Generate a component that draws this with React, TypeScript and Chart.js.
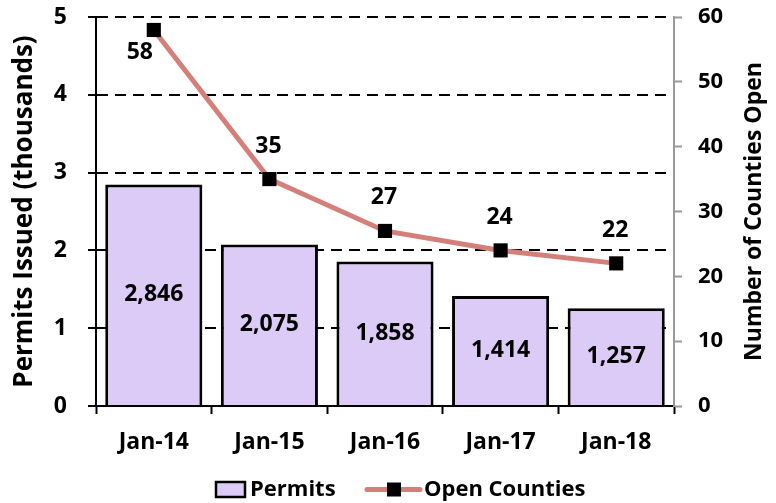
import React, { useEffect, useRef } from "react";
import { Chart, registerables } from "chart.js";

Chart.register(...registerables);

const categories = ["Jan-14", "Jan-15", "Jan-16", "Jan-17", "Jan-18"];
const permits = [2.846, 2.075, 1.858, 1.414, 1.257];
const permitLabels = ["2,846", "2,075", "1,858", "1,414", "1,257"];
const openCounties = [58, 35, 27, 24, 22];
const leftTicks = [0, 1, 2, 3, 4, 5];
const rightTicks = [0, 10, 20, 30, 40, 50, 60];
const leftTitle = "Permits Issued (thousands)";
const rightTitle = "Number of Counties Open";

const FONT = "'Open Sans', sans-serif";
const BAR_FILL = "#dccbf7";
const LINE_COLOR = "#d47f7a";

const labelPlugin = {
  id: "labels",
  afterDatasetsDraw(chart: any) {
    const ctx = chart.ctx;
    ctx.save();
    ctx.fillStyle = "#000";
    ctx.font = `bold 23px ${FONT}`;
    ctx.textAlign = "center";
    ctx.textBaseline = "middle";
    const barMeta = chart.getDatasetMeta(0);
    barMeta.data.forEach((el: any, i: number) => {
      const yMid = (el.y + el.base) / 2;
      ctx.fillText(permitLabels[i], el.x, yMid);
    });
    const lineMeta = chart.getDatasetMeta(1);
    lineMeta.data.forEach((el: any, i: number) => {
      if (i === 0) ctx.fillText(String(openCounties[i]), el.x - 14, el.y + 22);
      else ctx.fillText(String(openCounties[i]), el.x - 1, el.y - 33);
    });
    ctx.restore();
  },
  afterDraw(chart: any) {
    const ctx = chart.ctx;
    const area = chart.chartArea;
    const midY = (area.top + area.bottom) / 2;
    ctx.save();
    ctx.fillStyle = "#000";
    ctx.textAlign = "center";
    ctx.textBaseline = "middle";
    // left axis title
    ctx.save();
    ctx.font = `bold 26px ${FONT}`;
    ctx.translate(25, midY);
    ctx.rotate(-Math.PI / 2);
    ctx.fillText(leftTitle, 0, 0);
    ctx.restore();
    // right axis title, reading bottom-to-top
    ctx.save();
    ctx.font = `bold 23px ${FONT}`;
    ctx.translate(754, midY);
    ctx.rotate(-Math.PI / 2);
    ctx.fillText(rightTitle, 0, 0);
    ctx.restore();
    ctx.restore();

    ctx.save();
    const y = 489.5;
    // Permits legend
    ctx.fillStyle = BAR_FILL;
    ctx.fillRect(216, y - 7.5, 29, 15);
    ctx.strokeStyle = "#000";
    ctx.lineWidth = 2.5;
    ctx.strokeRect(216, y - 7.5, 29, 15);
    ctx.fillStyle = "#000";
    ctx.font = `bold 22px ${FONT}`;
    ctx.textAlign = "left";
    ctx.textBaseline = "middle";
    ctx.fillText(chart.data.datasets[0].label, 250, y);
    // Open Counties legend
    ctx.strokeStyle = LINE_COLOR;
    ctx.lineWidth = 5;
    ctx.lineCap = "round";
    ctx.beginPath();
    ctx.moveTo(367, y);
    ctx.lineTo(420, y);
    ctx.stroke();
    ctx.fillStyle = "#000";
    ctx.fillRect(387, y - 7, 14, 14);
    ctx.fillText(chart.data.datasets[1].label, 424, y);
    ctx.restore();
  },
};

export default function App() {
  const ref = useRef<HTMLCanvasElement>(null);
  useEffect(() => {
    if (!ref.current) return;
    const chart = new Chart(ref.current, {
      type: "bar",
      data: {
        labels: categories,
        datasets: [
          {
            type: "bar",
            label: "Permits",
            data: permits,
            backgroundColor: BAR_FILL,
            borderColor: "#000",
            borderWidth: 3,
            barPercentage: 0.84,
            categoryPercentage: 1,
            yAxisID: "y",
            order: 2,
          },
          {
            type: "line",
            label: "Open Counties",
            data: openCounties,
            borderColor: LINE_COLOR,
            borderWidth: 5,
            pointStyle: "rect",
            pointRadius: 10,
            pointBackgroundColor: "#000",
            pointBorderColor: "#000",
            pointBorderWidth: 0,
            yAxisID: "y1",
            order: 1,
          } as any,
        ],
      },
      options: {
        animation: false,
        responsive: true,
        maintainAspectRatio: false,
        layout: { padding: { top: 17, bottom: 47, left: 0, right: 0 } },
        plugins: {
          legend: { display: false },
          tooltip: { enabled: false },
        },
        scales: {
          x: {
            afterFit: (s: any) => {
              s.height = 50;
              s.paddingLeft = 0;
              s.paddingRight = 0;
            },
            grid: {
              display: true,
              drawOnChartArea: false,
              drawTicks: true,
              tickLength: 8,
              tickColor: "#000",
              tickWidth: 2,
              offset: true,
            },
            border: { display: true, color: "#000", width: 2 },
            ticks: {
              color: "#000",
              font: { family: FONT, size: 23, weight: "bold" },
              padding: 15,
            },
          },
          y: {
            position: "left",
            min: 0,
            max: 5,
            afterBuildTicks: (axis: any) => {
              axis.ticks = leftTicks.map((v) => ({ value: v }));
            },
            afterFit: (s: any) => {
              s.width = 96;
              s.paddingTop = 0;
              s.paddingBottom = 0;
            },
            grid: {
              color: "#000",
              lineWidth: 2,
              tickLength: 8,
              tickColor: "#000",
              tickWidth: 2,
            },
            border: { display: true, color: "#000", width: 2, dash: [11, 7] },
            ticks: {
              color: "#000",
              font: { family: FONT, size: 23, weight: "bold" },
              padding: 21,
            },
          },
          y1: {
            position: "right",
            min: 0,
            max: 60,
            afterBuildTicks: (axis: any) => {
              axis.ticks = rightTicks.map((v) => ({ value: v }));
            },
            afterFit: (s: any) => {
              s.width = 102;
              s.paddingTop = 0;
              s.paddingBottom = 0;
            },
            grid: {
              drawOnChartArea: false,
              tickLength: 8,
              tickColor: "#999",
              tickWidth: 2,
            },
            border: { display: true, color: "#999", width: 2 },
            ticks: {
              color: "#000",
              font: { family: FONT, size: 22, weight: "bold" },
              padding: 16,
            },
          },
        },
      },
      plugins: [labelPlugin],
    });
    return () => chart.destroy();
  }, []);
  return (
    <div style={{ position: "absolute", left: 0, top: 0, width: 776, height: 503, background: "#fff" }}>
      <canvas ref={ref} />
    </div>
  );
}
